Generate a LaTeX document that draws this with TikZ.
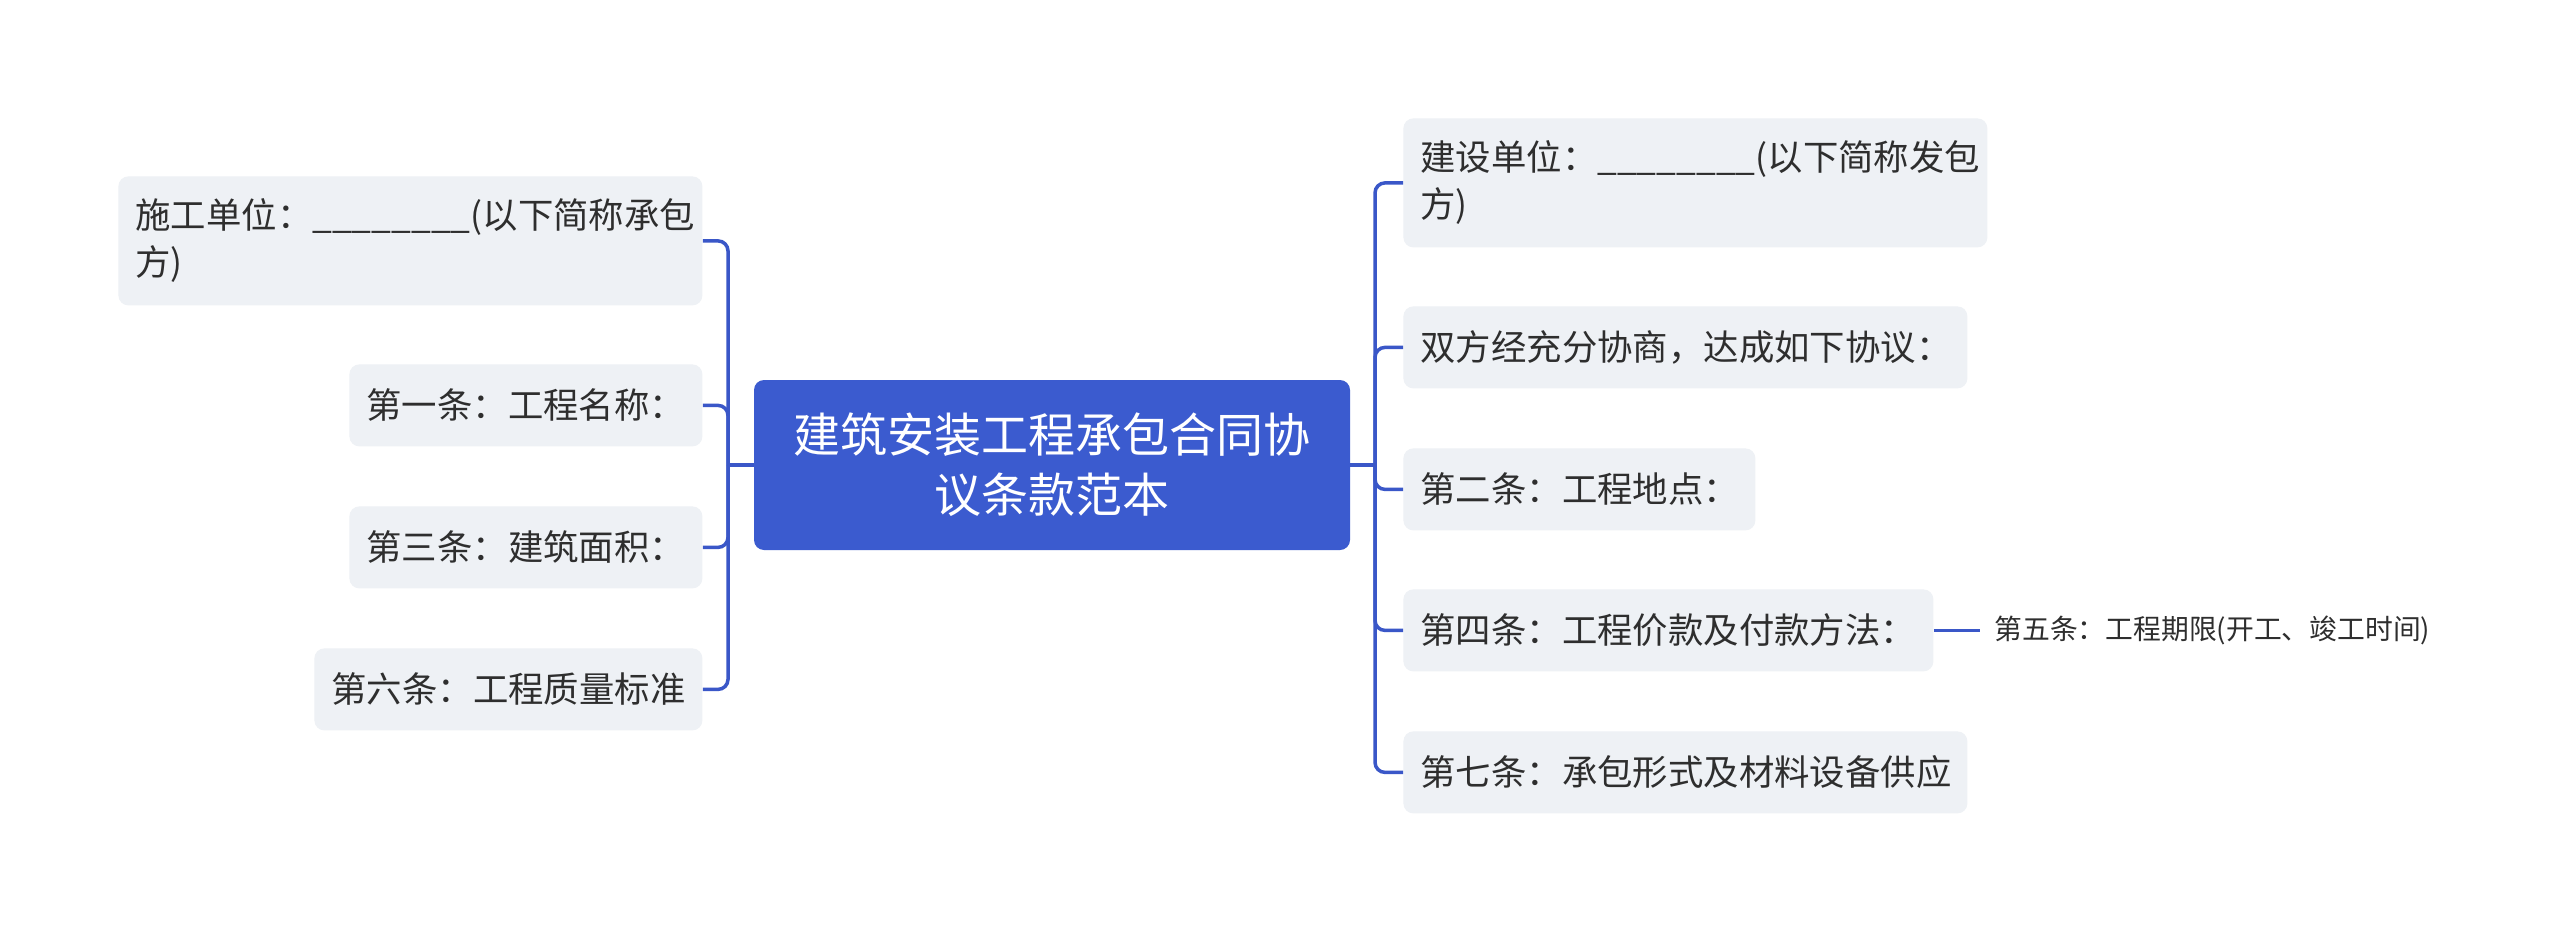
\documentclass[tikz,border=0pt]{standalone}
\usepackage{fontspec}
\setmainfont{Noto Sans CJK SC}
\definecolor{mainblue}{HTML}{3B5BCF}
\definecolor{linkblue}{HTML}{3A57C8}
\definecolor{childfill}{HTML}{EEF1F5}
\definecolor{textc}{HTML}{2E2E2E}
\begin{document}
\begin{tikzpicture}[x=0.5pt,y=-0.5pt,
  childbox/.style={fill=childfill, rounded corners=5pt, text=textc,
    font=\fontsize{17.7}{23.5}\selectfont, inner xsep=8.5pt, inner ysep=0pt,
    align=left, anchor=north west, minimum height=41pt},
  rootbox/.style={fill=mainblue, rounded corners=5pt, text=white,
    font=\fontsize{23.5}{30}\selectfont, align=center,
    minimum width=298pt, minimum height=85pt, inner sep=0pt},
  leafbox/.style={text=textc, font=\fontsize{13.9}{17}\selectfont,
    inner xsep=7pt, inner ysep=2pt, anchor=west},
  conn/.style={draw=linkblue, line width=1.75pt, rounded corners=5pt}]
\useasboundingbox (0,0) rectangle (2560,931);
\fill[white] (0,0) rectangle (2560,931);

\node[rootbox] (root) at (1052,465) {建筑安装工程承包合同协\\议条款范本};

\node[childbox, text width=275pt, minimum height=64.5pt] (a1) at (118,176) {施工单位：\_\_\_\_\_\_\_\_(以下简称承包\\方)};
\node[childbox, text width=159.5pt] (a2) at (349,364) {第一条：工程名称：};
\node[childbox, text width=159.5pt] (a3) at (349,506) {第三条：建筑面积：};
\node[childbox, text width=177pt] (a4) at (314,648) {第六条：工程质量标准};

\node[childbox, text width=275pt, minimum height=64.5pt] (b1) at (1403,118) {建设单位：\_\_\_\_\_\_\_\_(以下简称发包\\方)};
\node[childbox, text width=265pt] (b2) at (1403,306) {双方经充分协商，达成如下协议：};
\node[childbox, text width=159pt] (b3) at (1403,448) {第二条：工程地点：};
\node[childbox, text width=248pt] (b4) at (1403,589) {第四条：工程价款及付款方法：};
\node[childbox, text width=265pt] (b5) at (1403,731) {第七条：承包形式及材料设备供应};

\node[leafbox] (c1) at (b4.east -| 1980,0) {第五条：工程期限(开工、竣工时间)};

\coordinate (lt) at (728,465);
\coordinate (rt) at (1375,465);

\draw[conn] (root.west) -- (lt);
\foreach \n in {a1,a2,a3,a4} \draw[conn] (\n.east) -| (lt);
\draw[conn] (root.east) -- (rt);
\foreach \n in {b1,b2,b3,b4,b5} \draw[conn] (\n.west) -| (rt);
\draw[conn] (b4.east) -- (c1.west);
\end{tikzpicture}
\end{document}
